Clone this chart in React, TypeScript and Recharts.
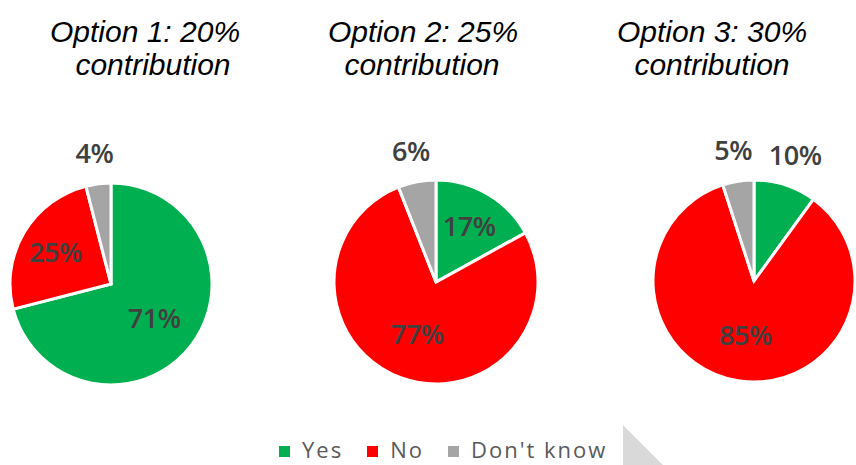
import { PieChart, Pie, Cell } from "recharts";

const categories = ["Yes", "No", "Don't know"];
const option1 = [71, 25, 4];
const option2 = [17, 77, 6];
const option3 = [10, 85, 5];
const titles = ["Option 1: 20%", "Option 2: 25%", "Option 3: 30%"];
const subtitle = "contribution";

const COLORS = ["#00B050", "#FF0000", "#A5A5A5"];
const RAD = Math.PI / 180;

const toRows = (values: number[]) => categories.map((name, i) => ({ name, value: values[i] }));

const pies = [
  { values: option1, cx: 111, cy: 284, r: 101 },
  { values: option2, cx: 436, cy: 282, r: 102 },
  { values: option3, cx: 754, cy: 281, r: 101 },
];

const titlePos = [
  [145, 153],
  [423, 422],
  [712, 712],
];

const renderLabel = (props: any) => {
  const { cx, cy, midAngle, outerRadius, value } = props;
  let d: number;
  if (value <= 10) d = outerRadius + 32;
  else if (value > 50) d = outerRadius * 0.54;
  else d = outerRadius * 0.64;
  const x = cx + d * Math.cos(-midAngle * RAD);
  const y = cy + d * Math.sin(-midAngle * RAD);
  return (
    <text
      x={x}
      y={y}
      textAnchor="middle"
      dominantBaseline="central"
      fill="#404040"
      fontFamily="'Open Sans', sans-serif"
      fontWeight={600}
      fontSize={27}
      letterSpacing={-0.5}
    >
      {value}%
    </text>
  );
};

const App = () => {
  return (
    <div style={{ position: "absolute", left: 0, top: 0, width: 856, height: 465, background: "#fff", overflow: "hidden" }}>
      <PieChart width={856} height={465} margin={{ top: 0, right: 0, bottom: 0, left: 0 }}>
        {pies.map((p, k) => (
          <Pie
            key={k}
            data={toRows(p.values)}
            dataKey="value"
            nameKey="name"
            cx={p.cx}
            cy={p.cy}
            outerRadius={p.r}
            startAngle={90}
            endAngle={-270}
            stroke="#fff"
            strokeWidth={3}
            label={renderLabel}
            labelLine={false}
            isAnimationActive={false}
          >
            {p.values.map((_, i) => (
              <Cell key={i} fill={COLORS[i]} />
            ))}
          </Pie>
        ))}
      </PieChart>

      <svg width={856} height={465} style={{ position: "absolute", left: 0, top: 0, pointerEvents: "none" }}>
        {titles.map((t, k) => (
          <g key={k} fontFamily="'Liberation Sans', Arial, sans-serif" fontStyle="italic" fontSize={30} fill="#000">
            <text x={titlePos[k][0]} y={42} textAnchor="middle">{t}</text>
            <text x={titlePos[k][1]} y={75} textAnchor="middle">{subtitle}</text>
          </g>
        ))}
        <polygon points="623,425 623,465 663,465" fill="#D9D9D9" />
      </svg>

      <div
        style={{
          position: "absolute",
          left: 279,
          top: 436,
          display: "flex",
          alignItems: "center",
          fontFamily: "'Open Sans', sans-serif",
          fontSize: 22,
          letterSpacing: 2,
          color: "#595959",
          lineHeight: "26px",
        }}
      >
        {categories.map((c, i) => (
          <div key={c} style={{ display: "flex", alignItems: "center", marginRight: i < categories.length - 1 ? 24 : 0 }}>
            <span style={{ width: 11, height: 11, background: COLORS[i], marginRight: 12, marginTop: 4 }} />
            <span>{c}</span>
          </div>
        ))}
      </div>
    </div>
  );
};

export default App;
